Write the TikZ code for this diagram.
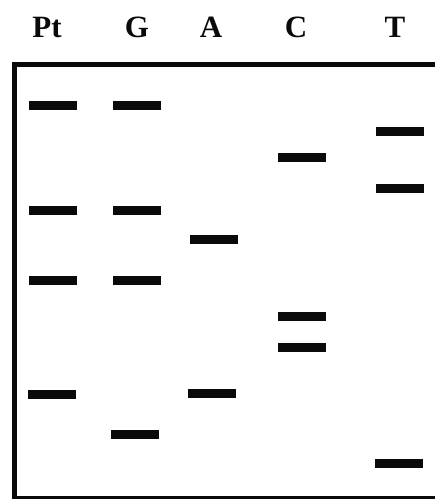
\documentclass[tikz,border=0pt]{standalone}
\usepackage{fontspec}
\setmainfont{Liberation Serif}
\definecolor{gelInk}{HTML}{0A0A0A}
\definecolor{gelPaper}{HTML}{FFFFFF}
\tikzset{
  gel frame/.style={draw=gelInk, line width=5pt},
  gel band/.style={rectangle, fill=gelInk, minimum width=48pt, minimum height=9pt, inner sep=0pt},
  gel label/.style={font=\fontsize{31}{31}\selectfont\bfseries, text=gelInk, anchor=base, inner sep=0pt},
}

\begin{document}
\begin{tikzpicture}[x=1pt,y=-1pt]
  \useasboundingbox[fill=gelPaper] (0,0) rectangle (435,499);
  % gel outline, right side runs off the page
  \coordinate (tl) at (14,64.8);
  \coordinate (br) at (460,498.5);
  \draw[gel frame] (tl) rectangle (br);
  % lane heads
  \foreach \x/\lab/\nm in {47/Pt/pt,137/G/g,211/A/a,296/C/c,395/T/t} {
    \node[gel label] (lab-\nm) at (\x,37) {\lab};
  }
  % bands: lane centre / position
  \foreach \x/\y [count=\i] in {52.5/105,52.5/210,52.5/280,51.5/394.5,
                                136.5/105,136.5/210,136.5/280,135/434.5,
                                213.5/239.5,212/393.5,
                                302/157,302/316.5,302/347.5,
                                400/131,400/188.5,399/463} {
    \node[gel band] (band-\i) at (\x,\y) {};
  }
\end{tikzpicture}
\end{document}
